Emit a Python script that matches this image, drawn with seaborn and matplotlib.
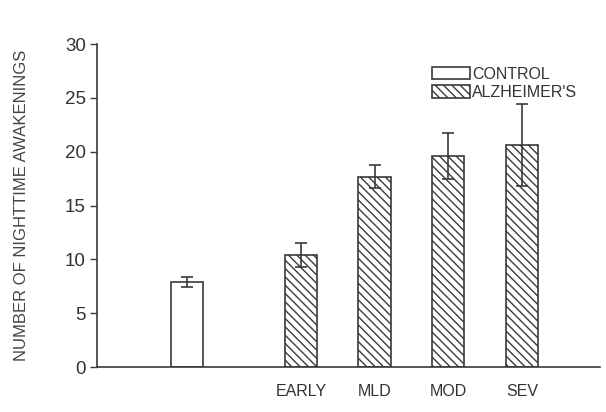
import matplotlib
matplotlib.use("Agg")
import matplotlib.pyplot as plt
import seaborn as sns
import pandas as pd
from matplotlib.patches import Patch

# ---- data ----
groups = ["CONTROL", "EARLY", "MLD", "MOD", "SEV"]
tick_labels = ["", "EARLY", "MLD", "MOD", "SEV"]
series = ["CONTROL", "ALZHEIMER'S", "ALZHEIMER'S", "ALZHEIMER'S", "ALZHEIMER'S"]
awakenings = [7.9, 10.4, 17.7, 19.6, 20.6]
sem = [0.5, 1.1, 1.1, 2.1, 3.8]

# ---- layout ----
x_pos = [0.0, 1.55, 2.55, 3.55, 4.55]

sns.set_theme(style="white")
plt.rcParams["font.family"] = ["Liberation Sans", "DejaVu Sans"]
plt.rcParams["hatch.linewidth"] = 1.0
plt.rcParams["hatch.color"] = "#333333"

ink = "#3a3a3a"
df = pd.DataFrame({"x": x_pos, "value": awakenings, "series": series, "group": groups})

fig = plt.figure(figsize=(6.06, 4.12), dpi=100)
ax = fig.add_axes([0.160, 0.109, 0.830, 0.784])

sns.barplot(data=df, x="x", y="value", hue="series", native_scale=True, dodge=False,
            width=0.44, palette={"CONTROL": "white", "ALZHEIMER'S": "white"},
            edgecolor=ink, linewidth=1.2, legend=False, ax=ax, errorbar=None)

for p in ax.patches:
    cx = p.get_x() + p.get_width() / 2
    idx = min(range(len(x_pos)), key=lambda i: abs(x_pos[i] - cx))
    p.set_facecolor("white")
    p.set_edgecolor(ink)
    if series[idx] != "CONTROL":
        p.set_hatch("\\\\\\\\")

ax.errorbar(x_pos, awakenings, yerr=sem, fmt="none", ecolor=ink, elinewidth=1.2,
            capsize=4, capthick=1.2, zorder=5)

ax.set_xlim(-1.22, 5.61)
ax.set_ylim(0, 30)
ax.set_yticks([0, 5, 10, 15, 20, 25, 30])
ax.set_xticks(x_pos)
ax.set_xticklabels(tick_labels)
ax.tick_params(axis="y", direction="out", length=5, width=1.0, color=ink,
               labelsize=13.5, labelcolor="#333333", pad=3, left=True)
ax.tick_params(axis="x", length=0, labelsize=11.5, labelcolor="#333333", pad=12)
ax.set_xlabel("")
ax.set_ylabel("NUMBER OF NIGHTTIME AWAKENINGS", fontsize=12, color="#444444", labelpad=26)

for s in ["top", "right"]:
    ax.spines[s].set_visible(False)
for s in ["left", "bottom"]:
    ax.spines[s].set_color(ink)
    ax.spines[s].set_linewidth(1.2)

handles = [Patch(facecolor="white", edgecolor=ink, linewidth=1.2, label="CONTROL"),
           Patch(facecolor="white", edgecolor=ink, linewidth=1.2, hatch="\\\\\\\\", label="ALZHEIMER'S")]
leg = ax.legend(handles=handles, loc="upper left", bbox_to_anchor=(0.643, 0.965),
                frameon=False, fontsize=11.5, handlelength=2.4, handleheight=0.85,
                handletextpad=0.15, labelspacing=0.2, borderpad=0.2)
for t in leg.get_texts():
    t.set_color("#333333")

fig.savefig("out.png", dpi=100, facecolor="white")
